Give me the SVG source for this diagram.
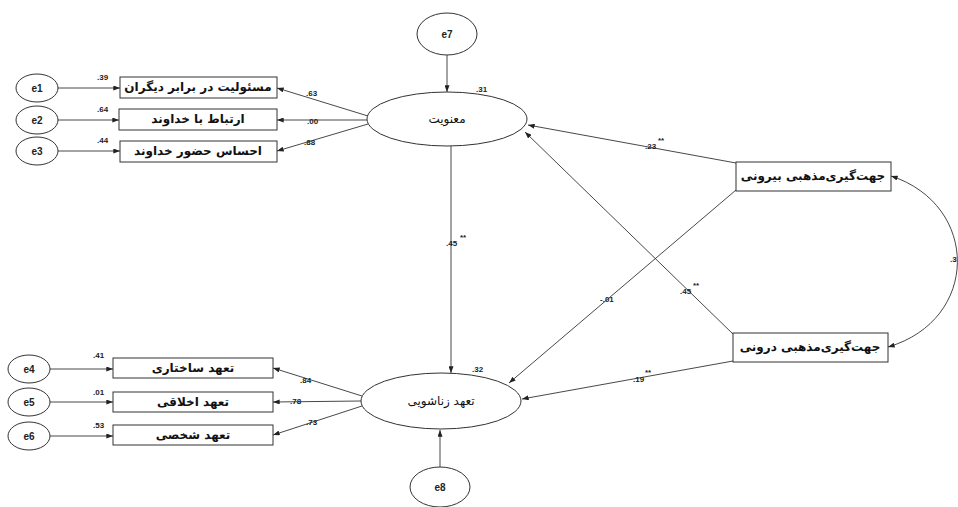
<svg xmlns="http://www.w3.org/2000/svg" width="958" height="507" viewBox="0 0 958 507">
<defs>
<marker id="ah" viewBox="0 0 8 6" refX="8" refY="3" markerWidth="7" markerHeight="5" markerUnits="userSpaceOnUse" orient="auto-start-reverse">
<path d="M0,0 L8,3 L0,6 Z" fill="#222"/>
</marker>
<style>
.box{fill:#fff;stroke:#333;stroke-width:1}
.ell{fill:#fff;stroke:#333;stroke-width:1}
.fa{font-family:"DejaVu Sans",sans-serif;font-size:12px;font-weight:bold;fill:#111;text-anchor:middle;dominant-baseline:central}
.fa2{font-family:"DejaVu Sans",sans-serif;font-size:12px;fill:#111;text-anchor:middle;dominant-baseline:central}
.ev{font-family:"Liberation Sans",Arial,sans-serif;font-size:10px;font-weight:bold;fill:#222;text-anchor:middle;dominant-baseline:central}
.n{font-family:"Liberation Sans",Arial,sans-serif;font-size:8px;font-weight:bold;fill:#222}
.ln{stroke:#333;stroke-width:0.9;fill:none}
</style>
</defs>
<rect width="958" height="507" fill="#fff"/>

<g id="connectors">
<line class="ln" x1="58" y1="88" x2="120" y2="88" marker-end="url(#ah)"/>
<line class="ln" x1="58" y1="120" x2="119" y2="120" marker-end="url(#ah)"/>
<line class="ln" x1="58" y1="151" x2="120" y2="151" marker-end="url(#ah)"/>
<line class="ln" x1="368" y1="116" x2="277" y2="88" marker-end="url(#ah)"/>
<line class="ln" x1="367" y1="120" x2="277" y2="120" marker-end="url(#ah)"/>
<line class="ln" x1="368" y1="124" x2="277" y2="151" marker-end="url(#ah)"/>
<line class="ln" x1="50" y1="369" x2="113" y2="369" marker-end="url(#ah)"/>
<line class="ln" x1="50" y1="402" x2="113" y2="402" marker-end="url(#ah)"/>
<line class="ln" x1="50" y1="436" x2="113" y2="436" marker-end="url(#ah)"/>
<line class="ln" x1="362" y1="396" x2="273" y2="368" marker-end="url(#ah)"/>
<line class="ln" x1="361" y1="401" x2="273" y2="402" marker-end="url(#ah)"/>
<line class="ln" x1="362" y1="406" x2="273" y2="435" marker-end="url(#ah)"/>
<line class="ln" x1="447" y1="55" x2="447" y2="92" marker-end="url(#ah)"/>
<line class="ln" x1="451" y1="146" x2="451" y2="373" marker-end="url(#ah)"/>
<line class="ln" x1="440" y1="467" x2="440" y2="430" marker-end="url(#ah)"/>
<line class="ln" x1="736" y1="163" x2="528" y2="125" marker-end="url(#ah)"/>
<line class="ln" x1="736" y1="190" x2="509" y2="383" marker-end="url(#ah)"/>
<line class="ln" x1="733" y1="334" x2="525" y2="132" marker-end="url(#ah)"/>
<line class="ln" x1="733" y1="361" x2="522" y2="399" marker-end="url(#ah)"/>
<path class="ln" d="M891,176 C980,205 980,320 888,347" marker-start="url(#ah)" marker-end="url(#ah)"/>
</g>

<g id="labels">
<text class="n" x="97" y="80">.39</text>
<text class="n" x="97" y="112">.64</text>
<text class="n" x="97" y="143">.44</text>
<text class="n" x="306" y="96">.63</text>
<text class="n" x="307" y="124">.00</text>
<text class="n" x="304" y="145">.88</text>
<text class="n" x="93" y="358">.41</text>
<text class="n" x="93" y="395">.01</text>
<text class="n" x="93" y="428">.53</text>
<text class="n" x="300" y="383">.84</text>
<text class="n" x="290" y="404">.78</text>
<text class="n" x="306" y="425">.73</text>
<text class="n" x="476" y="92">.31</text>
<text class="n" x="472" y="372">.32</text>
<text class="n" x="446" y="246">.45</text><text class="n" x="460" y="240">**</text>
<text class="n" x="645" y="149">.23</text><text class="n" x="658" y="143">**</text>
<text class="n" x="680" y="294">.45</text><text class="n" x="693" y="288">**</text>
<text class="n" x="600" y="302">-.01</text>
<text class="n" x="633" y="382">.19</text><text class="n" x="645" y="375">**</text>
<text class="n" x="950" y="262">.3</text>
</g>

<g id="e1"><ellipse class="ell" cx="37" cy="88" rx="21" ry="14"/><text class="ev" x="37" y="88">e1</text></g>
<g id="e2"><ellipse class="ell" cx="37" cy="120" rx="21" ry="14"/><text class="ev" x="37" y="120">e2</text></g>
<g id="e3"><ellipse class="ell" cx="37" cy="151" rx="21" ry="14"/><text class="ev" x="37" y="151">e3</text></g>
<g id="e4"><ellipse class="ell" cx="29" cy="369" rx="21" ry="14"/><text class="ev" x="29" y="369">e4</text></g>
<g id="e5"><ellipse class="ell" cx="29" cy="402" rx="21" ry="14"/><text class="ev" x="29" y="402">e5</text></g>
<g id="e6"><ellipse class="ell" cx="29" cy="436" rx="21" ry="14"/><text class="ev" x="29" y="436">e6</text></g>
<g id="e7"><ellipse class="ell" cx="447" cy="34" rx="30" ry="21"/><text class="ev" x="447" y="34">e7</text></g>
<g id="e8"><ellipse class="ell" cx="440" cy="487" rx="30" ry="20"/><text class="ev" x="440" y="487">e8</text></g>

<g id="box-responsibility"><rect class="box" x="120" y="77" width="157" height="21"/><text class="fa" x="198" y="87">مسئولیت در برابر دیگران</text></g>
<g id="box-relation"><rect class="box" x="119" y="109" width="158" height="21"/><text class="fa" x="198" y="119">ارتباط با خداوند</text></g>
<g id="box-presence"><rect class="box" x="120" y="141" width="157" height="21"/><text class="fa" x="198" y="151">احساس حضور خداوند</text></g>

<g id="box-structural"><rect class="box" x="113" y="358" width="160" height="20"/><text class="fa" x="193" y="368">تعهد ساختاری</text></g>
<g id="box-moral"><rect class="box" x="113" y="392" width="160" height="20"/><text class="fa" x="193" y="402">تعهد اخلاقی</text></g>
<g id="box-personal"><rect class="box" x="113" y="425" width="160" height="20"/><text class="fa" x="193" y="435">تعهد شخصی</text></g>

<g id="spirituality"><ellipse class="ell" cx="447" cy="119" rx="80" ry="27"/><text class="fa2" x="447" y="119">معنویت</text></g>
<g id="marital"><ellipse class="ell" cx="441" cy="401" rx="80" ry="28"/><text class="fa2" x="441" y="401">تعهد زناشویی</text></g>

<g id="box-extrinsic"><rect class="box" x="736" y="162" width="155" height="29"/><text class="fa" x="813" y="176" font-size="13">جهت‌گیری‌مذهبی بیرونی</text></g>
<g id="box-intrinsic"><rect class="box" x="733" y="333" width="155" height="29"/><text class="fa" x="810" y="347" font-size="13">جهت‌گیری‌مذهبی درونی</text></g>
</svg>
